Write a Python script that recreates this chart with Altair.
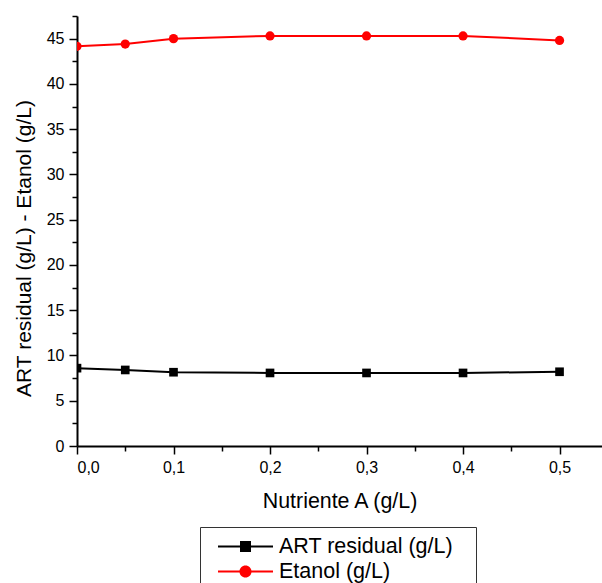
import altair as alt
import pandas as pd

nutriente = [0.0, 0.05, 0.1, 0.2, 0.3, 0.4, 0.5]
art_residual = [8.6, 8.4, 8.15, 8.07, 8.07, 8.07, 8.2]
etanol = [44.15, 44.4, 45.0, 45.3, 45.3, 45.3, 44.8]
series_names = ["ART residual (g/L)", "Etanol (g/L)"]
series_colors = ["#000000", "#FF0000"]
x_major = [0.0, 0.1, 0.2, 0.3, 0.4, 0.5]
x_minor = [0.05, 0.15, 0.25, 0.35, 0.45]
y_major = [0, 5, 10, 15, 20, 25, 30, 35, 40, 45]
y_minor = [2.5, 7.5, 12.5, 17.5, 22.5, 27.5, 32.5, 37.5, 42.5, 47.5]

df = pd.DataFrame({
    "x": nutriente + nutriente,
    "y": art_residual + etanol,
    "serie": [series_names[0]] * len(nutriente) + [series_names[1]] * len(nutriente),
})

FONT = "Liberation Sans"
xscale = alt.Scale(domain=[0, 0.544], nice=False, zero=False)
yscale = alt.Scale(domain=[0, 47.5], nice=False)
cscale = alt.Scale(domain=series_names, range=series_colors)

# legend symbols: line with marker (custom paths)
legend_paths = [
    "M-1,-0.04H1V0.04H-1Z M-0.2,-0.2H0.2V0.2H-0.2Z",
    "M-1,-0.04H1V0.04H-1Z M-0.22,0A0.22,0.22 0 1,1 0.22,0A0.22,0.22 0 1,1 -0.22,0Z",
]

base = alt.Chart(df)

leg = alt.Legend(
    title=None, orient="none", legendX=123, legendY=511,
    strokeColor="#333333", padding=10, labelFontSize=21.5, labelFont=FONT,
    labelColor="black", symbolSize=3025, symbolStrokeWidth=0, symbolOpacity=1,
    symbolOffset=8, labelOffset=6, rowPadding=3, labelLimit=400, clipHeight=19,
    labelExpr="datum.label + '\u00a0\u00a0\u200b'",
)

# invisible layer that carries the legend (placed first so its legend wins)
legend_layer = base.mark_point(filled=True, opacity=0).encode(
    x=alt.X("x:Q", scale=xscale, axis=None),
    y=alt.Y("y:Q", scale=yscale, axis=None),
    color=alt.Color("serie:N", scale=cscale, legend=leg),
    shape=alt.Shape("serie:N", scale=alt.Scale(domain=series_names, range=legend_paths), legend=leg),
)

lines = base.mark_line(strokeWidth=2, clip=True).encode(
    x=alt.X("x:Q", scale=xscale,
            axis=alt.Axis(orient="bottom", values=x_minor, labels=False, domain=False,
                          tickSize=5, tickWidth=1.5, title=None, grid=False)),
    y=alt.Y("y:Q", scale=yscale,
            axis=alt.Axis(orient="left", values=y_minor, labels=False, domain=False,
                          tickSize=5, tickWidth=1.5, title=None, grid=False)),
    color=alt.Color("serie:N", scale=cscale, legend=None),
)

squares = base.transform_filter(alt.datum.serie == series_names[0]).mark_square(
    size=75, opacity=1, clip=True
).encode(
    x=alt.X("x:Q", scale=xscale,
            axis=alt.Axis(orient="bottom", values=x_major, domain=True, domainWidth=2,
                          tickSize=8, tickWidth=1.5, labelPadding=5, titlePadding=15,
                          titleFontSize=21.4, labelFontSize=16,
                          title="Nutriente A (g/L)", grid=False,
                          labelExpr="replace(format(datum.value, '.1f'), '.', ',')")),
    y=alt.Y("y:Q", scale=yscale,
            axis=alt.Axis(orient="left", values=y_major, domain=True, domainWidth=2,
                          tickSize=8, tickWidth=1.5, labelPadding=5, titlePadding=12,
                          titleFontSize=21, labelFontSize=16, titleY=232,
                          title="ART residual (g/L) - Etanol (g/L)", grid=False,
                          format="d")),
    color=alt.Color("serie:N", scale=cscale, legend=None),
)

circles = base.transform_filter(alt.datum.serie == series_names[1]).mark_circle(
    size=85, opacity=1, clip=True
).encode(
    x=alt.X("x:Q", scale=xscale, axis=None),
    y=alt.Y("y:Q", scale=yscale, axis=None),
    color=alt.Color("serie:N", scale=cscale, legend=None),
)

chart = alt.layer(legend_layer, lines, squares, circles).resolve_axis(
    x="independent", y="independent"
).properties(
    width=525, height=430,
    autosize=alt.AutoSizeParams(type="none"),
    padding={"left": 77, "top": 16, "right": 0, "bottom": 137},
).configure_axis(
    labelFont=FONT, titleFont=FONT,
    titleFontWeight="normal", labelColor="black", titleColor="black",
    tickColor="black", domainColor="black",
).configure_view(strokeWidth=0)

chart.save("out.html", embed_options={"renderer": "svg", "actions": False})
